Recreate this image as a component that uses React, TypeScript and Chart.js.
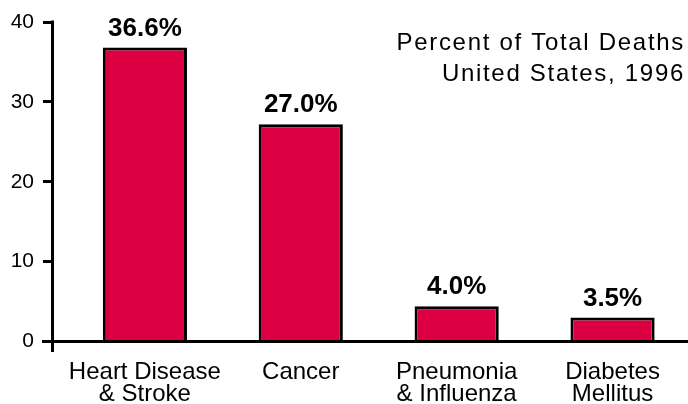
import React, { useEffect, useRef } from "react";
import { Chart, registerables } from "chart.js";

Chart.register(...registerables);

const categories: string[][] = [
  ["Heart Disease", "& Stroke"],
  ["Cancer"],
  ["Pneumonia", "& Influenza"],
  ["Diabetes", "Mellitus"],
];
const barValues = [36.8, 27.2, 4.4, 3.0];
const valueLabels = ["36.6%", "27.0%", "4.0%", "3.5%"];
const yMin = 0;
const yMax = 40;
const yStep = 10;
const titleLines = ["Percent of Total Deaths", "United States, 1996"];

const FONT = "'Liberation Sans', Arial, Helvetica, sans-serif";

export default function App() {
  const ref = useRef<HTMLCanvasElement>(null);

  useEffect(() => {
    document.body.style.margin = "0";
    const canvas = ref.current!;
    const decorPlugin = {
      id: "decor",
      afterDatasetsDraw(chart: any) {
        const ctx = chart.ctx;
        const meta = chart.getDatasetMeta(0);
        ctx.save();
        ctx.fillStyle = "#000";
        ctx.font = `bold 26px ${FONT}`;
        ctx.textAlign = "center";
        ctx.textBaseline = "alphabetic";
        meta.data.forEach((el: any, i: number) => {
          ctx.fillText(valueLabels[i], el.x, el.y - 12);
        });
        ctx.restore();
      },
      afterDraw(chart: any) {
        const ctx = chart.ctx;
        const a = chart.chartArea;
        ctx.save();
        ctx.strokeStyle = "#000";
        ctx.lineWidth = 3;
        ctx.beginPath();
        ctx.moveTo(a.left - 1.5, a.top - 1.5);
        ctx.lineTo(a.left - 1.5, a.bottom + 10.5);
        ctx.stroke();
        ctx.beginPath();
        ctx.moveTo(a.left - 12, a.bottom);
        ctx.lineTo(chart.width, a.bottom);
        ctx.stroke();
        ctx.fillStyle = "#000";
        ctx.font = `24px ${FONT}`;
        (ctx as any).letterSpacing = "1.7px";
        ctx.textAlign = "right";
        ctx.textBaseline = "alphabetic";
        ctx.fillText(titleLines[0], 685, 50);
        ctx.fillText(titleLines[1], 685, 81);
        ctx.restore();
      },
    };

    const chart = new Chart(canvas, {
      type: "bar",
      data: {
        datasets: [
          {
            data: barValues.map((v, i) => ({ x: i, y: v })),
            backgroundColor: "#DC0043",
            borderColor: "#000",
            borderWidth: 3,
            borderSkipped: "bottom",
            barPercentage: 0.54,
            categoryPercentage: 1,
          },
        ],
      },
      options: {
        animation: false,
        responsive: false,
        devicePixelRatio: 1,
        layout: { padding: { top: 22, left: 0, right: 0, bottom: 0 } },
        plugins: { legend: { display: false }, tooltip: { enabled: false } },
        scales: {
          x: {
            type: "linear",
            offset: false,
            min: -0.583,
            max: 3.484,
            afterBuildTicks: (s: any) => {
              s.ticks = categories.map((_, i) => ({ value: i }));
            },
            afterFit: (s: any) => {
              s.height = 62.5;
            },
            grid: { display: false, drawTicks: false, offset: false },
            border: { display: false },
            ticks: {
              autoSkip: false,
              maxRotation: 0,
              padding: 20,
              color: "#000",
              font: { family: FONT, size: 24, lineHeight: 0.92 },
              callback: (v: any) => categories[v] as any,
            },
          },
          y: {
            min: yMin,
            max: yMax,
            afterFit: (s: any) => {
              s.width = 54;
            },
            border: { display: false },
            grid: {
              drawOnChartArea: false,
              drawTicks: true,
              tickLength: 11,
              tickWidth: 3,
              tickColor: "#000",
            },
            ticks: {
              stepSize: yStep,
              padding: 9,
              color: "#000",
              font: { family: FONT, size: 21 },
            },
          },
        },
      },
      plugins: [decorPlugin],
    } as any);
    return () => chart.destroy();
  }, []);

  return (
    <div style={{ width: 688, height: 404 }}>
      <canvas ref={ref} width={688} height={404} style={{ display: "block" }} />
    </div>
  );
}
